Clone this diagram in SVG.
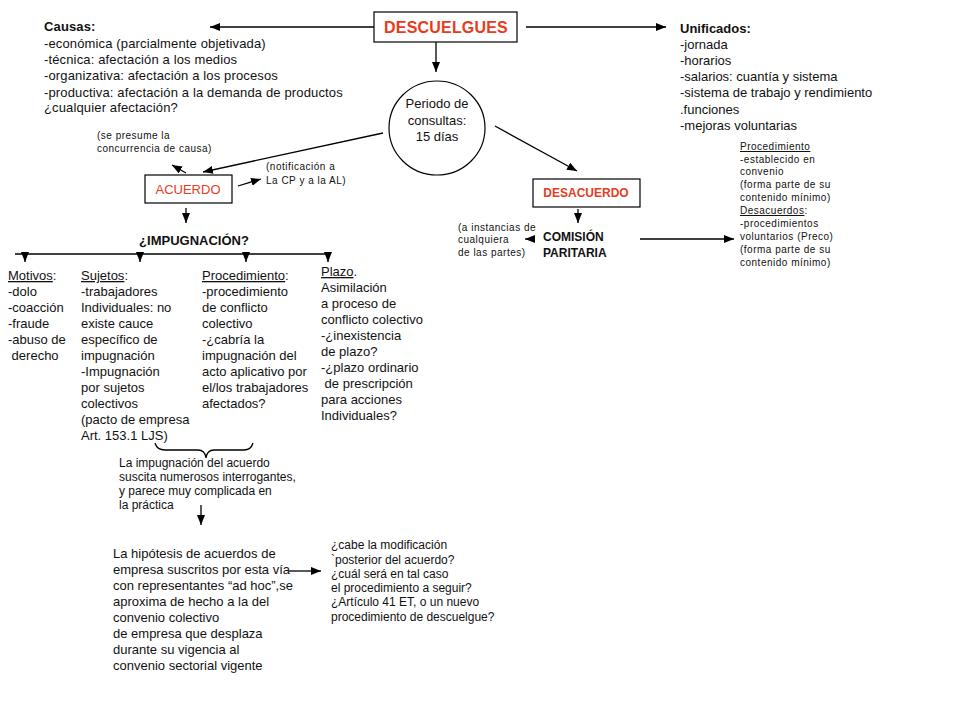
<svg xmlns="http://www.w3.org/2000/svg" width="960" height="720" viewBox="0 0 960 720">
<defs>
<marker id="ah" markerUnits="userSpaceOnUse" markerWidth="10" markerHeight="8" refX="10" refY="4" orient="auto">
<path d="M0,0 L10,4 L0,8 z" fill="#000"/>
</marker>
<style>
text{font-family:"Liberation Sans",Arial,sans-serif;fill:#111;}
.t13{font-size:13px;}
.t12{font-size:12px;}
.s{font-size:10px;letter-spacing:0.5px;}
.b{font-weight:bold;}
.red{fill:#e63c1e;}
.box{fill:#fff;stroke:#000;stroke-width:1.2;}
.c line,.c path{stroke:#000;stroke-width:1.3;fill:none;}
.a{marker-end:url(#ah);}
.u{text-decoration:underline;}
</style>
</defs>
<rect width="960" height="720" fill="#fff"/>

<g class="c" id="connectors">
<line class="a" x1="374" y1="27" x2="210" y2="27"/>
<line class="a" x1="526" y1="27" x2="666" y2="27"/>
<line class="a" x1="436" y1="42" x2="436" y2="72"/>
<line class="a" x1="383" y1="133" x2="203" y2="172"/>
<line class="a" x1="495" y1="126" x2="577" y2="171"/>
<line class="a" x1="186" y1="173" x2="172" y2="165"/>
<line class="a" x1="238" y1="186" x2="261" y2="179"/>
<line class="a" x1="186" y1="208" x2="186" y2="223"/>
<line x1="15" y1="254" x2="330" y2="254"/>
<line class="a" x1="25" y1="253" x2="25" y2="262"/>
<line class="a" x1="140" y1="253" x2="140" y2="262"/>
<line class="a" x1="246" y1="253" x2="246" y2="262"/>
<line class="a" x1="328" y1="253" x2="328" y2="262"/>
<path d="M155,443 Q157,450 165,450 L198,450 Q205,450 206,458 Q207,450 214,450 L244,450 Q251,450 253,443"/>
<line class="a" x1="201" y1="505" x2="201" y2="525"/>
<line class="a" x1="289" y1="571" x2="321" y2="571"/>
<line class="a" x1="578" y1="209" x2="578" y2="223"/>
<line class="a" x1="534" y1="239" x2="525" y2="239"/>
<line class="a" x1="640" y1="239" x2="734" y2="239"/>
</g>

<g id="descuelgues">
<rect class="box" x="374" y="12" width="143" height="30"/>
<text class="red b" x="446" y="33" font-size="16" text-anchor="middle" letter-spacing="0.2">DESCUELGUES</text>
</g>

<g id="causas" class="t13" letter-spacing="0.14">
<text x="44" y="31" class="b">Causas:</text>
<text x="44" y="48">-económica (parcialmente objetivada)</text>
<text x="44" y="64">-técnica: afectación a los medios</text>
<text x="44" y="80">-organizativa: afectación a los procesos</text>
<text x="44" y="97">-productiva: afectación a la demanda de productos</text>
<text x="44" y="112">¿cualquier afectación?</text>
</g>

<g id="unificados" class="t13">
<text x="680" y="33" class="b">Unificados:</text>
<text x="680" y="49">-jornada</text>
<text x="680" y="65">-horarios</text>
<text x="680" y="81">-salarios: cuantía y sistema</text>
<text x="680" y="97">-sistema de trabajo y rendimiento</text>
<text x="680" y="114">.funciones</text>
<text x="680" y="130">-mejoras voluntarias</text>
</g>

<g id="periodo">
<ellipse cx="437" cy="128" rx="48" ry="47" fill="#fff" stroke="#000" stroke-width="1.2"/>
<text class="t13" x="437" y="108" text-anchor="middle">Periodo de</text>
<text class="t13" x="437" y="125" text-anchor="middle">consultas:</text>
<text class="t13" x="437" y="141" text-anchor="middle">15 días</text>
</g>

<g id="se-presume" class="s">
<text x="97" y="139">(se presume la</text>
<text x="97" y="152">concurrencia de causa)</text>
</g>

<g id="acuerdo">
<rect class="box" x="145" y="175" width="87" height="28"/>
<text class="red t13" x="188" y="194" text-anchor="middle">ACUERDO</text>
</g>

<g id="notificacion" class="s">
<text x="266" y="170">(notificación a</text>
<text x="266" y="184">La CP y a la AL)</text>
</g>

<g id="impugnacion">
<text class="t13 b" x="194" y="245" text-anchor="middle">¿IMPUGNACIÓN?</text>
</g>

<g id="desacuerdo">
<rect class="box" x="533" y="179" width="107" height="28"/>
<text class="red b t12" x="586" y="197" text-anchor="middle">DESACUERDO</text>
</g>

<g id="comision" class="t12 b">
<text x="543" y="241">COMISIÓN</text>
<text x="543" y="257">PARITARIA</text>
</g>

<g id="instancias" class="s">
<text x="458" y="231">(a instancias de</text>
<text x="458" y="243">cualquiera</text>
<text x="458" y="256">de las partes)</text>
</g>

<g id="procedimiento-cp" class="s">
<text x="740" y="150"><tspan class="u">Procedimiento</tspan></text>
<text x="740" y="163">-establecido en</text>
<text x="740" y="175">convenio</text>
<text x="740" y="188">(forma parte de su</text>
<text x="740" y="201">contenido mínimo)</text>
<text x="740" y="214"><tspan class="u">Desacuerdos</tspan>:</text>
<text x="740" y="227">-procedimientos</text>
<text x="740" y="240">voluntarios (Preco)</text>
<text x="740" y="253">(forma parte de su</text>
<text x="740" y="266">contenido mínimo)</text>
</g>

<g id="motivos" class="t13">
<text x="8" y="280"><tspan class="u">Motivos</tspan>:</text>
<text x="8" y="296">-dolo</text>
<text x="8" y="312">-coacción</text>
<text x="8" y="328">-fraude</text>
<text x="8" y="344">-abuso de</text>
<text x="8" y="360" xml:space="preserve"> derecho</text>
</g>

<g id="sujetos" class="t13">
<text x="81" y="280"><tspan class="u">Sujetos</tspan>:</text>
<text x="81" y="296">-trabajadores</text>
<text x="81" y="312">Individuales: no</text>
<text x="81" y="328">existe cauce</text>
<text x="81" y="344">específico de</text>
<text x="81" y="360">impugnación</text>
<text x="81" y="376">-Impugnación</text>
<text x="81" y="392">por sujetos</text>
<text x="81" y="408">colectivos</text>
<text x="81" y="424">(pacto de empresa</text>
<text x="81" y="440">Art. 153.1 LJS)</text>
</g>

<g id="procedimiento" class="t13">
<text x="202" y="280"><tspan class="u">Procedimiento</tspan>:</text>
<text x="202" y="296">-procedimiento</text>
<text x="202" y="312">de conflicto</text>
<text x="202" y="328">colectivo</text>
<text x="202" y="344">-¿cabría la</text>
<text x="202" y="360">impugnación del</text>
<text x="202" y="376">acto aplicativo por</text>
<text x="202" y="392">el/los trabajadores</text>
<text x="202" y="408">afectados?</text>
</g>

<g id="plazo" class="t13">
<text x="321" y="276"><tspan class="u">Plazo</tspan>.</text>
<text x="321" y="292">Asimilación</text>
<text x="321" y="308">a proceso de</text>
<text x="321" y="324">conflicto colectivo</text>
<text x="321" y="340">-¿inexistencia</text>
<text x="321" y="356">de plazo?</text>
<text x="321" y="372">-¿plazo ordinario</text>
<text x="321" y="388" xml:space="preserve"> de prescripción</text>
<text x="321" y="404">para acciones</text>
<text x="321" y="420">Individuales?</text>
</g>

<g id="nota-impugnacion" class="t12">
<text x="119" y="467">La impugnación del acuerdo</text>
<text x="119" y="481">suscita numerosos interrogantes,</text>
<text x="119" y="495">y parece muy complicada en</text>
<text x="119" y="509">la práctica</text>
</g>

<g id="hipotesis" class="t13">
<text x="113" y="558">La hipótesis de acuerdos de</text>
<text x="113" y="574">empresa suscritos por esta vía</text>
<text x="113" y="590">con representantes “ad hoc”,se</text>
<text x="113" y="606">aproxima de hecho  a la del</text>
<text x="113" y="622">convenio colectivo</text>
<text x="113" y="638">de empresa que desplaza</text>
<text x="113" y="654">durante su vigencia al</text>
<text x="113" y="670">convenio sectorial vigente</text>
</g>

<g id="modificacion" class="t12">
<text x="331" y="549">¿cabe la modificación</text>
<text x="331" y="564">`posterior del acuerdo?</text>
<text x="331" y="578">¿cuál será en tal caso</text>
<text x="331" y="592">el procedimiento a seguir?</text>
<text x="331" y="606">¿Artículo 41 ET, o un nuevo</text>
<text x="331" y="621">procedimiento de descuelgue?</text>
</g>
</svg>
